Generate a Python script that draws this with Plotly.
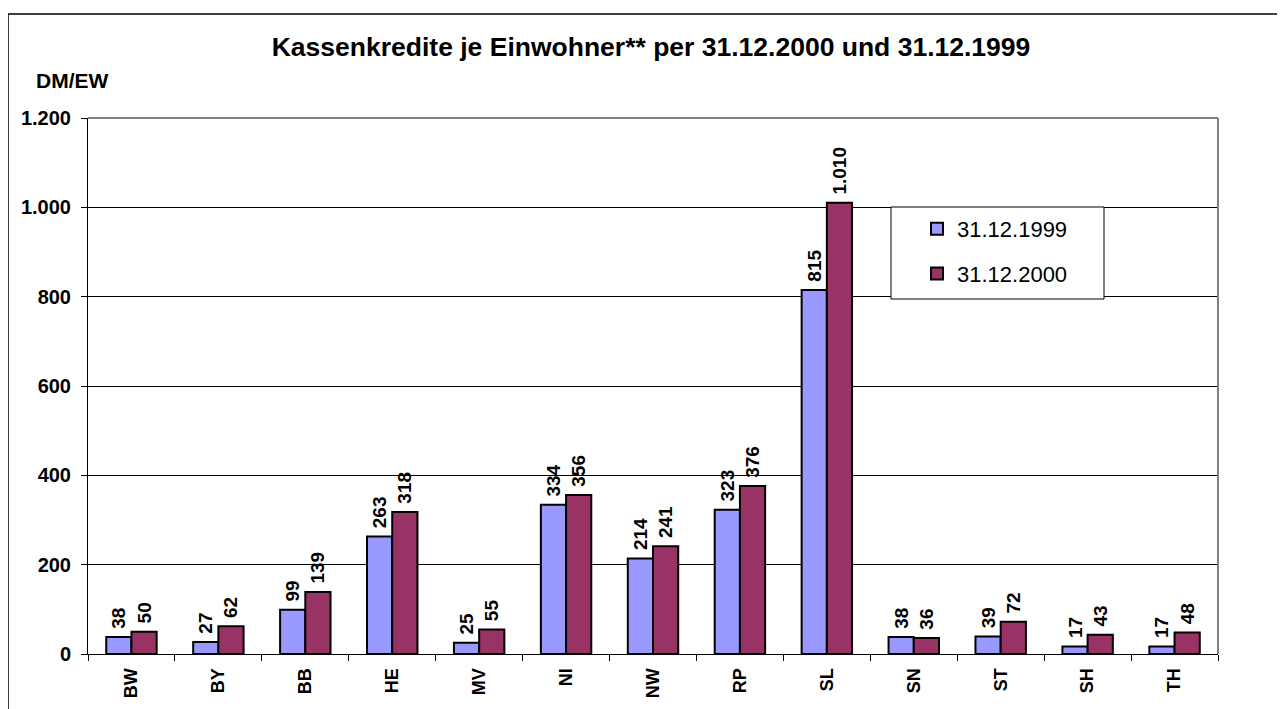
import plotly.graph_objects as go

laender = ['BW', 'BY', 'BB', 'HE', 'MV', 'NI', 'NW', 'RP', 'SL', 'SN', 'ST', 'SH', 'TH']
werte_1999 = [38, 27, 99, 263, 25, 334, 214, 323, 815, 38, 39, 17, 17]
werte_2000 = [50, 62, 139, 318, 55, 356, 241, 376, 1010, 36, 72, 43, 48]
y_ticks = [0, 200, 400, 600, 800, 1000, 1200]

FONT = 'Arial, Liberation Sans, sans-serif'

# page has an 8px body margin, so work in page pixels and shift
OFF = 8
W, H = 1285 - OFF, 709 - OFF
L, T, R, B = 88 - OFF, 118 - OFF, 1218 - OFF, 654 - OFF
px = lambda x: (x - OFF - L) / (R - L)
py = lambda y: (B - (y - OFF)) / (B - T)

bold = dict(family=FONT, color='black', weight='bold')

fig = go.Figure()
fig.add_trace(go.Bar(
    x=laender, y=werte_1999, name='31.12.1999', legendgroup='a',
    marker=dict(color='#9999FF', line=dict(color='black', width=2)),
    texttemplate='\u00a0%{y:,}', textposition='outside', textangle=-90,
    textfont=dict(size=19, **bold), cliponaxis=False,
))
fig.add_trace(go.Bar(
    x=laender, y=werte_2000, name='31.12.2000', legendgroup='b',
    marker=dict(color='#993366', line=dict(color='black', width=2)),
    texttemplate='\u00a0%{y:,}', textposition='outside', textangle=-90,
    textfont=dict(size=19, **bold), cliponaxis=False,
))

fig.update_layout(
    width=W, height=H,
    margin=dict(l=L, r=W - R, t=T, b=H - B),
    paper_bgcolor='white', plot_bgcolor='white',
    separators=',.',
    barmode='group', bargap=0.42, bargroupgap=0,
    font=dict(family=FONT, color='black'),
    title=dict(text='Kassenkredite je Einwohner** per 31.12.2000 und 31.12.1999',
               font=dict(size=26.5, **bold),
               x=(651 - OFF) / W, xanchor='center', xref='container',
               y=1 - (47 - OFF) / H, yanchor='middle', yref='container'),
    legend=dict(x=px(917), y=py(208), xanchor='left', yanchor='top',
                bgcolor='rgba(0,0,0,0)', borderwidth=0,
                font=dict(size=22, family=FONT, color='black'),
                traceorder='grouped', tracegroupgap=13),
    uniformtext=dict(minsize=19, mode='show'),
)

fig.update_xaxes(
    showline=True, linecolor='black', linewidth=1,
    ticks='outside', tickson='boundaries', ticklen=6, tickcolor='black',
    ticklabelstandoff=6,
    tickangle=-90, tickfont=dict(size=18, **bold),
    showgrid=False,
)
fig.update_yaxes(
    range=[0, 1200], tickvals=y_ticks, tickformat=',d',
    showline=True, linecolor='black', linewidth=1,
    ticks='outside', ticklen=6, tickcolor='black', ticklabelstandoff=6,
    tickfont=dict(size=20, **bold),
    showgrid=True, gridcolor='black', gridwidth=1, zeroline=False,
)

# DM/EW label
fig.add_annotation(text='DM/EW', xref='paper', yref='paper',
                   x=px(34), y=py(80), xanchor='left', yanchor='middle',
                   showarrow=False, font=dict(size=21, **bold))

# gray top and right edge of plot area
fig.add_shape(type='line', xref='paper', yref='paper', x0=0, x1=1, y0=1, y1=1,
              line=dict(color='#808080', width=2), layer='above')
fig.add_shape(type='line', xref='paper', yref='paper', x0=1, x1=1, y0=0, y1=1,
              line=dict(color='#808080', width=2), layer='above')

# legend box
fig.add_shape(type='rect', xref='paper', yref='paper',
              x0=px(891), x1=px(1104), y0=py(299), y1=py(207),
              line=dict(color='black', width=1), fillcolor='white', layer='above')

# outer chart frame
fig.add_shape(type='rect', xref='paper', yref='paper',
              x0=px(8), x1=px(1300), y0=py(720), y1=py(14),
              line=dict(color='black', width=1.5), layer='above')

fig.write_html('out.html')
